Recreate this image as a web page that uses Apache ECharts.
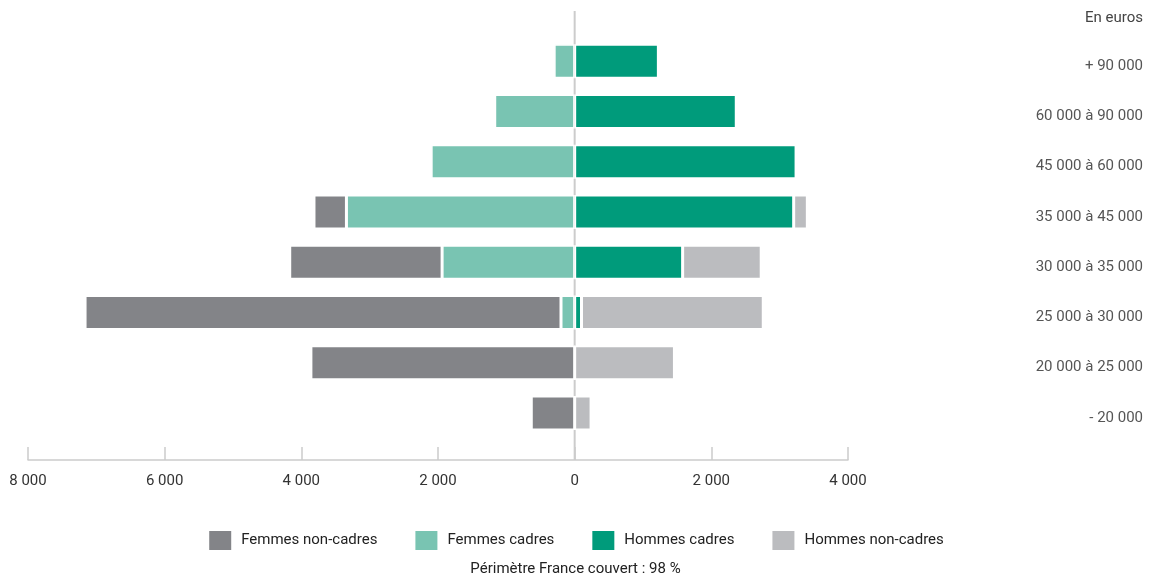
<!DOCTYPE html>
<html lang="fr">
<head>
    <meta charset="UTF-8">
    <script src="https://cdn.jsdelivr.net/npm/echarts@6/dist/echarts.min.js"></script>
    <title>Répartition des salaires</title>
    <style type="text/css">
    body { margin: 0; }
    .main {
        width: 1151px;
        height: 579px;
        background-color: #ffffff;
    }
    </style>
</head>
<body>
    <div id="main" class="main"></div>
</body>
</html>
<script type="text/javascript">
// tranches de salaire, du haut vers le bas
var tranches = ['+ 90 000', '60 000 à 90 000', '45 000 à 60 000', '35 000 à 45 000',
    '30 000 à 35 000', '25 000 à 30 000', '20 000 à 25 000', '- 20 000']

var femmesNonCadres = [0, 0, 0, 475, 2230, 6965, 3860, 635]
var femmesCadres = [300, 1170, 2100, 3340, 1940, 200, 0, 0]
var hommesCadres = [1225, 2365, 3240, 3205, 1580, 100, 0, 0]
var hommesNonCadres = [0, 0, 0, 200, 1150, 2660, 1460, 240]

var xTicks = [-8000, 4000, 2000]  // min, max, pas

var font = "'Roboto', sans-serif"
var couleurs = {
    fnc: '#838488',
    fc: '#79c4b2',
    hc: '#009b7b',
    hnc: '#bbbcbf'
}

function neg(arr) {
    return arr.map(function (v) { return -v })
}

function barre(name, data, color) {
    return {
        name: name,
        type: 'bar',
        stack: 'total',
        barWidth: 34,
        z: 3,
        itemStyle: {
            color: color,
            borderColor: '#fff',
            borderWidth: 1.5
        },
        data: data
    }
}

var myChart = echarts.init(document.getElementById('main'))

var option = {
    animation: false,
    textStyle: { fontFamily: font },
    title: [
        {
            text: 'En euros',
            right: 3,
            top: 6,
            textStyle: { fontFamily: font, fontSize: 15, fontWeight: 'normal', color: '#444' }
        },
        {
            text: 'Périmètre France couvert : 98 %',
            left: 'center',
            top: 557,
            textStyle: { fontFamily: font, fontSize: 15, fontWeight: 'normal', color: '#222' }
        }
    ],
    legend: {
        left: 'center',
        top: 524,
        icon: 'rect',
        itemWidth: 24,
        itemHeight: 21,
        itemGap: 36,
        textStyle: { fontFamily: font, fontSize: 15, color: '#222', padding: [0, 0, 0, 4] },
        data: ['Femmes non-cadres', 'Femmes cadres', 'Hommes cadres', 'Hommes non-cadres']
    },
    grid: {
        left: 28,
        right: 303,
        top: 36,
        bottom: 141
    },
    xAxis: {
        type: 'value',
        min: xTicks[0],
        max: xTicks[1],
        interval: xTicks[2],
        offset: 22,
        axisLine: { show: true, lineStyle: { color: '#cccccc', width: 1.5 } },
        axisTick: { show: true, inside: true, length: 13, lineStyle: { color: '#cccccc', width: 1.5 } },
        splitLine: { show: false },
        axisLabel: {
            margin: 14,
            fontSize: 15,
            color: '#333',
            fontFamily: font,
            formatter: function (v) {
                return String(Math.abs(v)).replace(/\B(?=(\d{3})+(?!\d))/g, ' ')
            }
        }
    },
    yAxis: {
        type: 'category',
        position: 'right',
        inverse: true,
        data: tranches,
        axisLine: { show: false },
        axisTick: { show: false },
        axisLabel: {
            align: 'right',
            verticalAlign: 'top',
            lineHeight: 10,
            margin: 295,
            fontSize: 15,
            color: '#555',
            fontFamily: font
        }
    },
    series: [
        barre('Femmes cadres', neg(femmesCadres), couleurs.fc),
        barre('Hommes cadres', hommesCadres, couleurs.hc),
        barre('Femmes non-cadres', neg(femmesNonCadres), couleurs.fnc),
        barre('Hommes non-cadres', hommesNonCadres, couleurs.hnc)
    ]
}
myChart.setOption(option)

// trait vertical sur le zéro, du haut jusqu'à l'axe
var x0 = myChart.convertToPixel({ xAxisIndex: 0 }, 0)
myChart.setOption({
    graphic: [{
        type: 'line',
        z: 1,
        shape: { x1: x0, y1: 11, x2: x0, y2: 460 },
        style: { stroke: '#cccccc', lineWidth: 2 }
    }]
})
</script>
